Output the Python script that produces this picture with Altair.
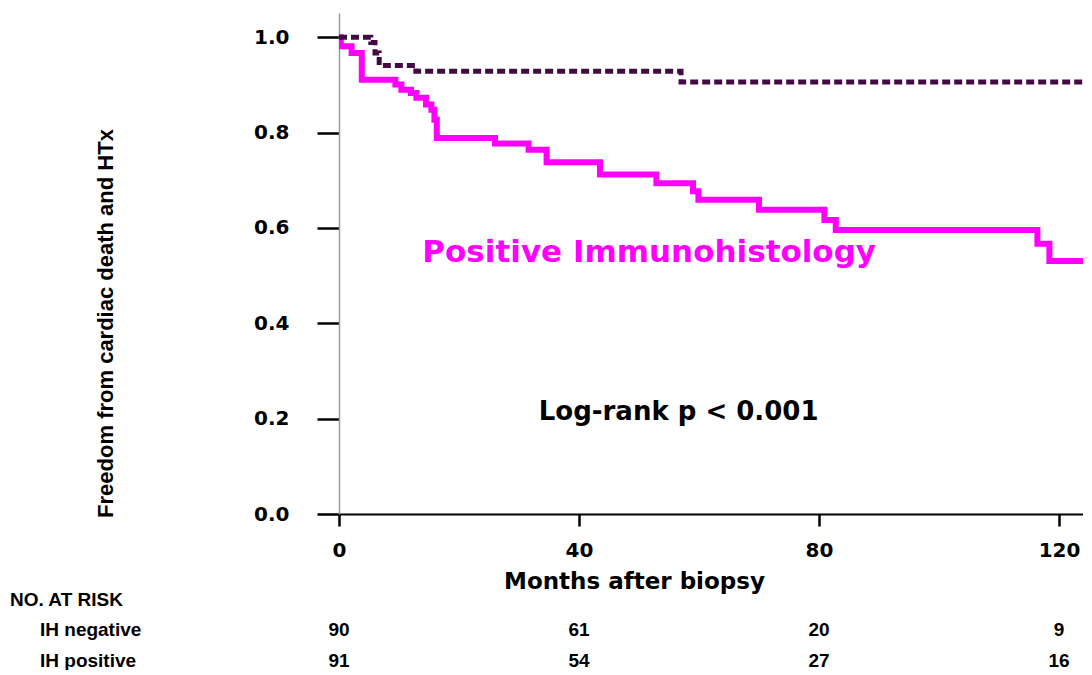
import altair as alt
import pandas as pd

# Kaplan-Meier curves
neg_months = [0, 5.3, 6.0, 6.7, 12.8, 57.0, 126]
neg_surv = [1.0, 0.989, 0.967, 0.941, 0.929, 0.906, 0.906]

pos_months = [0, 0.3, 2.1, 3.8, 9.4, 10.4, 12.0, 12.9, 14.5, 15.4, 15.9, 16.3,
              26.0, 31.6, 34.6, 43.5, 52.9, 59.0, 59.9, 70.0, 80.9, 82.8,
              116.4, 118.4, 126]
pos_surv = [1.0, 0.981, 0.967, 0.911, 0.901, 0.890, 0.883, 0.873, 0.859, 0.848,
            0.827, 0.789, 0.777, 0.764, 0.738, 0.712, 0.694, 0.677, 0.659,
            0.638, 0.617, 0.596, 0.567, 0.531, 0.531]

# Number at risk table
risk_months = [0, 40, 80, 120]
risk_negative = [90, 61, 20, 9]
risk_positive = [91, 54, 27, 16]

x_ticks = [0, 40, 80, 120]
y_ticks = [0.0, 0.2, 0.4, 0.6, 0.8, 1.0]

neg_df = pd.DataFrame({"month": neg_months, "surv": neg_surv})
pos_df = pd.DataFrame({"month": pos_months, "surv": pos_surv})
neg_risk_df = pd.DataFrame({"month": risk_months, "n": [str(v) for v in risk_negative]})
pos_risk_df = pd.DataFrame({"month": risk_months, "n": [str(v) for v in risk_positive]})

xscale = alt.Scale(domain=[0, 124.0], nice=False, zero=False)
yscale = alt.Scale(domain=[0, 1.051], nice=False)

x_axis = alt.Axis(
    values=x_ticks, grid=False, labelFlush=False, labelOverlap=False,
    domainColor="black", domainWidth=2, tickColor="black", tickWidth=2.5, tickSize=12,
    labelFont="DejaVu Sans", labelFontWeight="bold", labelFontSize=20, labelColor="black",
    labelPadding=14,
    title="Months after biopsy", titleFont="DejaVu Sans", titleFontWeight="bold",
    titleFontSize=23, titleColor="black", titleX=295, titleY=74,
    titleAlign="center", titleBaseline="alphabetic",
)
y_axis = alt.Axis(
    values=y_ticks, format=".1f", grid=False, labelFlush=False, labelOverlap=False,
    domainColor="#9a9a9a", domainWidth=1.5, tickColor="black", tickWidth=2.5, tickSize=22,
    labelFont="DejaVu Sans", labelFontWeight="bold", labelFontSize=20, labelColor="black",
    labelPadding=28,
    title="Freedom from cardiac death and HTx", titleFont="Liberation Sans",
    titleFontWeight="bold", titleFontSize=22, titleColor="black", titleAngle=270,
    titleX=-234, titleY=310, titleAlign="center", titleBaseline="middle",
)

pos_line = alt.Chart(pos_df).mark_line(
    interpolate="step-after", color="#ff00ff", strokeWidth=6, clip=True
).encode(
    x=alt.X("month:Q", scale=xscale, axis=x_axis),
    y=alt.Y("surv:Q", scale=yscale, axis=y_axis),
)

neg_line = alt.Chart(neg_df).mark_line(
    interpolate="step-after", color="#430a43", strokeWidth=5,
    strokeDash=[8, 4], clip=True
).encode(
    x=alt.X("month:Q", scale=xscale),
    y=alt.Y("surv:Q", scale=yscale),
)

annot_df = pd.DataFrame({
    "month": [51.7, 56.6],
    "surv": [0.548, 0.2146],
    "label": ["Positive Immunohistology", "Log-rank p < 0.001"],
    "group": ["pos", "lr"],
})
pos_label = alt.Chart(annot_df[annot_df.group == "pos"]).mark_text(
    font="DejaVu Sans", fontWeight="bold", fontSize=31, color="#ff00ff",
    align="center", baseline="middle"
).encode(x=alt.X("month:Q", scale=xscale), y=alt.Y("surv:Q", scale=yscale), text="label:N")
lr_label = alt.Chart(annot_df[annot_df.group == "lr"]).mark_text(
    font="DejaVu Sans", fontWeight="bold", fontSize=26, color="black",
    align="center", baseline="middle"
).encode(x=alt.X("month:Q", scale=xscale), y=alt.Y("surv:Q", scale=yscale), text="label:N")

table_font = dict(font="Liberation Sans", fontWeight="bold", fontSize=19, color="black",
                  baseline="middle")

neg_nums = alt.Chart(neg_risk_df).mark_text(align="center", **table_font).encode(
    x=alt.X("month:Q", scale=xscale), y=alt.value(617), text="n:N")
pos_nums = alt.Chart(pos_risk_df).mark_text(align="center", **table_font).encode(
    x=alt.X("month:Q", scale=xscale), y=alt.value(648), text="n:N")

head = alt.Chart(pd.DataFrame({"t": ["NO. AT RISK"]})).mark_text(align="left", **table_font).encode(
    x=alt.value(-329), y=alt.value(587), text="t:N")
neg_row = alt.Chart(pd.DataFrame({"t": ["IH negative"]})).mark_text(align="left", **table_font).encode(
    x=alt.value(-299), y=alt.value(617), text="t:N")
pos_row = alt.Chart(pd.DataFrame({"t": ["IH positive"]})).mark_text(align="left", **table_font).encode(
    x=alt.value(-299), y=alt.value(648), text="t:N")

chart = alt.layer(
    pos_line, neg_line, pos_label, lr_label, neg_nums, pos_nums, head, neg_row, pos_row
).properties(
    width=744, height=501,
    background="white",
    autosize=alt.AutoSizeParams(type="none"),
    padding={"left": 331, "top": 5, "right": 0, "bottom": 156},
).configure_view(stroke=None)

chart.save("out.html", embed_options={"renderer": "svg", "actions": False})
